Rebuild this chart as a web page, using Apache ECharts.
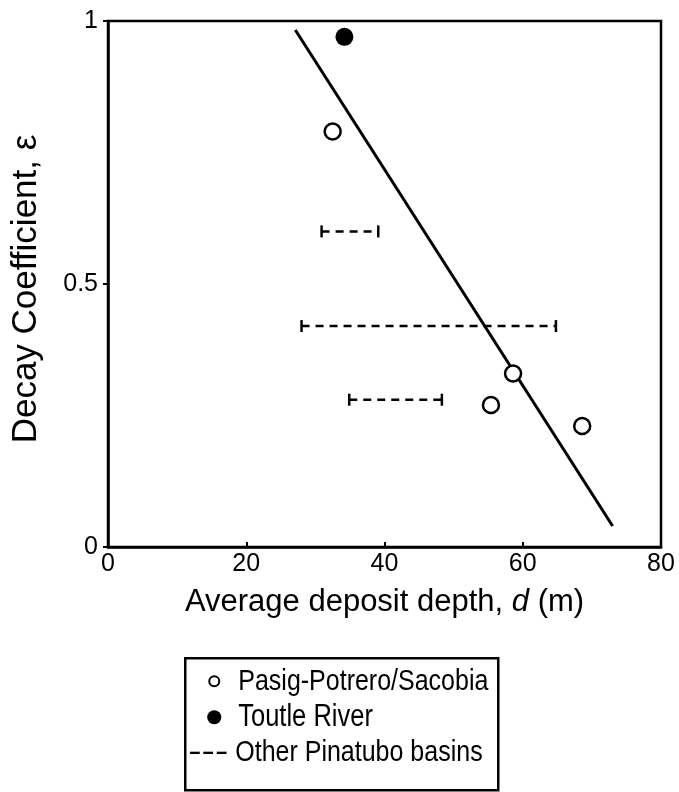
<!DOCTYPE html>
<html>
<head>
<meta charset="utf-8">
<script src="https://cdn.jsdelivr.net/npm/echarts@6/dist/echarts.min.js"></script>
<style>
  html, body { margin: 0; padding: 0; background: #fff; }
  #chart { width: 679px; height: 792px; }
</style>
</head>
<body>
<div id="chart"></div>
<script>
// Axis ticks
const depthTicks = [0, 20, 40, 60, 80];
const epsTicks = [0, 0.5, 1];

// Pasig-Potrero / Sacobia (open circles)
const pasigDepth = [32.5, 55.4, 58.6, 68.6];
const pasigEps = [0.79, 0.27, 0.33, 0.23];

// Toutle River (filled circle)
const toutleDepth = [34.2];
const toutleEps = [0.97];

// Other Pinatubo basins: depth ranges at a given decay coefficient
const otherLow = [30.9, 28.0, 34.9];
const otherHigh = [39.1, 64.8, 48.3];
const otherEps = [0.60, 0.42, 0.28];

// Fitted trend line end points
const fitDepth = [27.1, 73.0];
const fitEps = [0.983, 0.04];

const FONT = 'Liberation Sans, Arial, sans-serif';

const chart = echarts.init(document.getElementById('chart'), null, { renderer: 'canvas' });

const zip = (a, b) => a.map((v, i) => [v, b[i]]);

chart.setOption({
  animation: false,
  backgroundColor: '#fff',
  grid: {
    left: 108, right: 18, top: 21, bottom: 245,
    show: true, borderColor: '#000', borderWidth: 2.5, backgroundColor: 'transparent'
  },
  xAxis: {
    type: 'value',
    min: depthTicks[0], max: depthTicks[depthTicks.length - 1], interval: 20,
    axisLine: { lineStyle: { color: '#000', width: 2.5 } },
    axisTick: { inside: true, length: 5, lineStyle: { color: '#000', width: 2 } },
    splitLine: { show: false },
    axisLabel: { color: '#000', fontFamily: FONT, fontSize: 25, margin: 5 },
    name: '{n|Average deposit depth, }{i|d}{n| (m)}',
    nameLocation: 'middle',
    nameGap: 40,
    nameTextStyle: {
      rich: {
        n: { fontFamily: FONT, fontSize: 31, color: '#000' },
        i: { fontFamily: FONT, fontSize: 31, color: '#000', fontStyle: 'italic' }
      }
    }
  },
  yAxis: {
    type: 'value',
    min: epsTicks[0], max: epsTicks[epsTicks.length - 1], interval: 0.5,
    axisLine: { lineStyle: { color: '#000', width: 2.5 } },
    axisTick: { inside: false, length: 5, lineStyle: { color: '#000', width: 2 } },
    splitLine: { show: false },
    axisLabel: { color: '#000', fontFamily: FONT, fontSize: 25, margin: 10 },
    name: 'Decay Coefficient, ε',
    nameLocation: 'middle',
    nameGap: 64,
    nameTextStyle: { fontFamily: FONT, fontSize: 35, color: '#000', padding: [0, 10, 0, 0] }
  },
  series: [
    {
      name: 'Fit',
      type: 'line',
      data: zip(fitDepth, fitEps),
      symbol: 'none',
      lineStyle: { color: '#000', width: 3 },
      z: 2
    },
    {
      name: 'Other Pinatubo basins',
      type: 'custom',
      data: otherLow.map((lo, i) => [lo, otherHigh[i], otherEps[i]]),
      encode: { x: [0, 1], y: 2 },
      renderItem: function (params, api) {
        const y = api.value(2);
        const p1 = api.coord([api.value(0), y]);
        const p2 = api.coord([api.value(1), y]);
        const cap = 6;
        const st = { stroke: '#000', lineWidth: 2.5 };
        return {
          type: 'group',
          children: [
            { type: 'line', shape: { x1: p1[0], y1: p1[1], x2: p2[0], y2: p2[1] },
              style: { stroke: '#000', lineWidth: 2.5, lineDash: [8, 6] } },
            { type: 'line', shape: { x1: p1[0], y1: p1[1] - cap, x2: p1[0], y2: p1[1] + cap }, style: st },
            { type: 'line', shape: { x1: p2[0], y1: p2[1] - cap, x2: p2[0], y2: p2[1] + cap }, style: st }
          ]
        };
      },
      z: 3
    },
    {
      name: 'Pasig-Potrero/Sacobia',
      type: 'scatter',
      data: zip(pasigDepth, pasigEps),
      symbol: 'circle',
      symbolSize: 16,
      itemStyle: { color: '#fff', borderColor: '#000', borderWidth: 2.5, opacity: 1 },
      z: 4
    },
    {
      name: 'Toutle River',
      type: 'scatter',
      data: zip(toutleDepth, toutleEps),
      symbol: 'circle',
      symbolSize: 18,
      itemStyle: { color: '#000', opacity: 1 },
      z: 4
    }
  ],
  graphic: [
    {
      type: 'group',
      left: 184, top: 657,
      children: [
        { type: 'rect', shape: { x: 0, y: 0, width: 313, height: 132 },
          style: { fill: '#fff', stroke: '#000', lineWidth: 2.5 } },
        { type: 'circle', shape: { cx: 29, cy: 23, r: 5 },
          style: { fill: '#fff', stroke: '#000', lineWidth: 2 } },
        { type: 'text', x: 53, y: 23, scaleY: 1.2,
          style: { text: 'Pasig-Potrero/Sacobia', font: '25px ' + FONT, fill: '#000', verticalAlign: 'middle' } },
        { type: 'circle', shape: { cx: 29, cy: 59, r: 7 },
          style: { fill: '#000' } },
        { type: 'text', x: 53, y: 59, scaleY: 1.2,
          style: { text: 'Toutle River', font: '25.5px ' + FONT, fill: '#000', verticalAlign: 'middle' } },
        { type: 'text', x: 3, y: 94, scaleX: 1.6, scaleY: 1.2,
          style: { text: '---', font: '25px ' + FONT, fill: '#000', verticalAlign: 'middle' } },
        { type: 'text', x: 50, y: 94, scaleY: 1.2,
          style: { text: 'Other Pinatubo basins', font: '25px ' + FONT, fill: '#000', verticalAlign: 'middle' } }
      ]
    }
  ]
});
</script>
</body>
</html>
